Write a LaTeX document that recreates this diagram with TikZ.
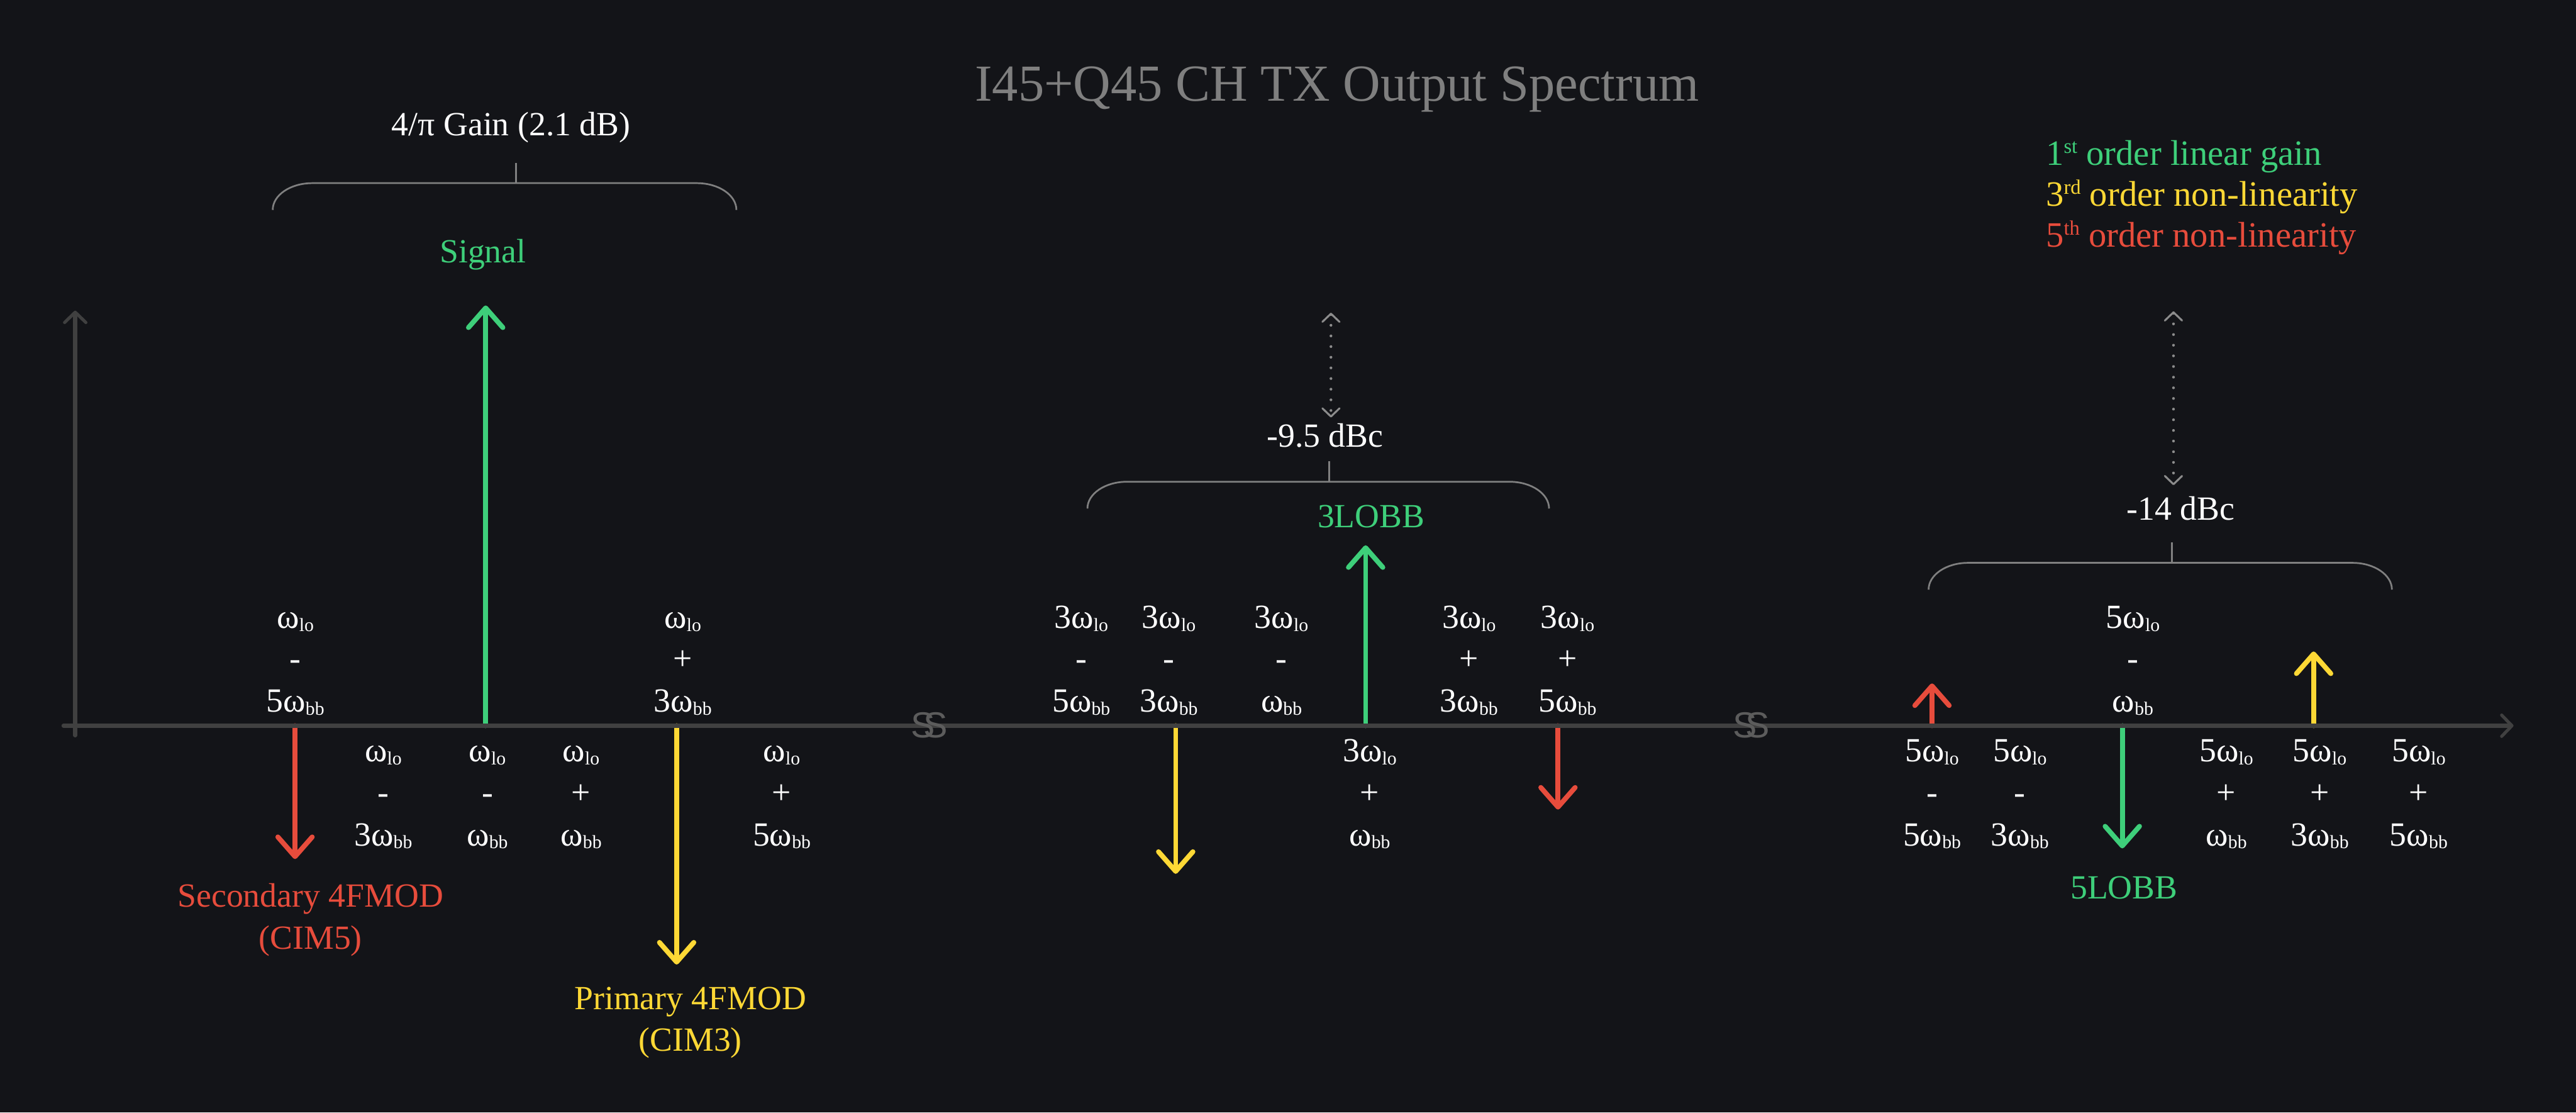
\documentclass[tikz,border=0pt]{standalone}
\usepackage{fontspec}
\setmainfont{Liberation Serif}
\newfontfamily\brkfont{Liberation Sans}
\usetikzlibrary{arrows.meta}
\definecolor{bg}{HTML}{131418}
\definecolor{gr}{HTML}{3ECF7A}
\definecolor{yl}{HTML}{FDD835}
\definecolor{rd}{HTML}{E74C3C}
\definecolor{axc}{HTML}{404040}
\definecolor{brc}{HTML}{808080}
\definecolor{dotc}{HTML}{8C8C8C}
\definecolor{ttl}{HTML}{7F7F7F}
\definecolor{brk}{HTML}{5C5C5C}
\newcommand\lblfont{\fontsize{28}{34.7}\selectfont}
\newcommand\legfont{\fontsize{29.5}{34.7}\selectfont}
\newcommand\sbs[1]{\raisebox{-0.09cm}{\fontsize{15.5}{15.5}\selectfont #1}}
\newcommand\sps[1]{\raisebox{0.35cm}{\fontsize{17}{17}\selectfont #1}}
\newcommand\wlo{ω\sbs{lo}}
\newcommand\wbb{ω\sbs{bb}}
\newcommand\stk[3]{\begin{tabular}[t]{@{}c@{}}#1\\#2\\#3\end{tabular}}
\newcommand\two[2]{\begin{tabular}[t]{@{}c@{}}#1\\#2\end{tabular}}
\tikzset{
  lbl/.style={font=\lblfont, text=white, inner sep=0pt, anchor=base},
  leg/.style={font=\legfont, inner sep=0pt, anchor=base west},
  sig/.style={line width=4.1pt, line cap=round, -{Straight Barb[length=0.57cm,width=1.0cm,round]}},
  axisln/.style={axc, line width=3.4pt, line cap=round, -{Straight Barb[length=0.3cm,width=0.62cm,round,line width=2.6pt]}},
  bracel/.style={brc, line width=1.42pt},
  dimln/.style={dotc, line width=2.3pt, dash pattern=on 0pt off 0.31cm, line cap=round,
    {Straight Barb[length=0.24cm,width=0.5cm,round,line width=1.6pt]}-{Straight Barb[length=0.24cm,width=0.5cm,round,line width=1.6pt]}},
  brkmark/.style={font=\brkfont\fontsize{30}{30}\selectfont, text=brk, inner sep=0pt}
}
\begin{document}
\begin{tikzpicture}
\fill[bg] (0,0) rectangle (75,-32.38);
\useasboundingbox (0,0) rectangle (75,-32.38);

% title
\node[lbl, text=ttl, font=\fontsize{43}{50}\selectfont] (title) at (38.93,-2.93) {I45+Q45 CH TX Output Spectrum};

% legend
\node[leg, text=gr] (leg1) at (59.56,-4.80) {1\sps{st} order linear gain};
\node[leg, text=yl] (leg2) at (59.56,-6.00) {3\sps{rd} order non-linearity};
\node[leg, text=rd] (leg3) at (59.56,-7.19) {5\sps{th} order non-linearity};

% coordinates for spectral lines
\foreach \n/\x in {a/8.59,b/14.14,c/19.70,d/34.23,e/39.76,f/45.36,g/56.25,h/61.79,i/67.36}
  \coordinate (s\n) at (\x,-21.12);
\coordinate (ta) at (8.59,-25.00);
\coordinate (tb) at (14.14,-8.89);
\coordinate (tc) at (19.70,-28.07);
\coordinate (td) at (34.23,-25.43);
\coordinate (te) at (39.76,-15.87);
\coordinate (tf) at (45.36,-23.56);
\coordinate (tg) at (56.25,-19.89);
\coordinate (th) at (61.79,-24.69);
\coordinate (ti) at (67.36,-18.96);

\draw[sig, rd] (sa) -- (ta);
\draw[sig, gr] (sb) -- (tb);
\draw[sig, yl] (sc) -- (tc);
\draw[sig, yl] (sd) -- (td);
\draw[sig, gr] (se) -- (te);
\draw[sig, rd] (sf) -- (tf);
\draw[sig, rd] (sg) -- (tg);
\draw[sig, gr] (sh) -- (th);
\draw[sig, yl] (si) -- (ti);

% axes
\coordinate (yb) at (2.19,-21.40);
\coordinate (yt) at (2.19,-9.04);
\coordinate (xl) at (1.85,-21.12);
\coordinate (xr) at (73.18,-21.12);
\draw[axisln] (yb) -- (yt);
\draw[axisln] (xl) -- (xr);

% axis breaks
\node[brkmark] (brk1) at (27.06,-21.11) {S\kern-0.33cm S};
\node[brkmark] (brk2) at (50.99,-21.11) {S\kern-0.33cm S};

% braces
\draw[bracel] (7.94,-6.11) arc[start angle=180,end angle=90,x radius=1.15,y radius=0.78]
  -- (20.29,-5.33) arc[start angle=90,end angle=0,x radius=1.15,y radius=0.78];
\draw[bracel] (15.02,-5.33) -- (15.02,-4.74);
\draw[bracel] (31.66,-14.80) arc[start angle=180,end angle=90,x radius=1.15,y radius=0.78]
  -- (43.95,-14.02) arc[start angle=90,end angle=0,x radius=1.15,y radius=0.78];
\draw[bracel] (38.70,-14.02) -- (38.70,-13.42);
\draw[bracel] (56.15,-17.16) arc[start angle=180,end angle=90,x radius=1.15,y radius=0.78]
  -- (68.49,-16.38) arc[start angle=90,end angle=0,x radius=1.15,y radius=0.78];
\draw[bracel] (63.24,-16.38) -- (63.24,-15.79);

% dimension arrows
\coordinate (d1t) at (38.75,-9.10);
\coordinate (d1b) at (38.75,-12.15);
\coordinate (d2t) at (63.28,-9.06);
\coordinate (d2b) at (63.28,-14.12);
\draw[dimln] (d1t) -- (d1b);
\draw[dimln] (d2t) -- (d2b);

% labels
\node[lbl] (gain) at (14.88,-3.95) {4/π Gain (2.1 dB)};
\node[lbl, text=gr] (signal) at (14.06,-7.64) {Signal};
\node[lbl] (db1) at (38.58,-13.01) {-9.5 dBc};
\node[lbl] (db2) at (63.49,-15.14) {-14 dBc};
\node[lbl, text=gr] (lobb3) at (39.92,-15.36) {3LOBB};
\node[lbl, text=gr] (lobb5) at (61.84,-26.16) {5LOBB};
\node[lbl, text=rd] (sec) at (9.04,-26.40) {\two{Secondary 4FMOD}{(CIM5)}};
\node[lbl, text=yl] (pri) at (20.10,-29.37) {\two{Primary 4FMOD}{(CIM3)}};

% frequency stacks above axis
\node[lbl] (u1) at (8.60,-18.28) {\stk{\wlo}{-}{5\wbb}};
\node[lbl] (u2) at (19.88,-18.28) {\stk{\wlo}{+}{3\wbb}};
\node[lbl] (u3) at (31.48,-18.28) {\stk{3\wlo}{-}{5\wbb}};
\node[lbl] (u4) at (34.03,-18.28) {\stk{3\wlo}{-}{3\wbb}};
\node[lbl] (u5) at (37.31,-18.28) {\stk{3\wlo}{-}{\wbb}};
\node[lbl] (u6) at (42.77,-18.28) {\stk{3\wlo}{+}{3\wbb}};
\node[lbl] (u7) at (45.64,-18.28) {\stk{3\wlo}{+}{5\wbb}};
\node[lbl] (u8) at (62.10,-18.28) {\stk{5\wlo}{-}{\wbb}};

% frequency stacks below axis
\node[lbl] (l1) at (11.16,-22.17) {\stk{\wlo}{-}{3\wbb}};
\node[lbl] (l2) at (14.19,-22.17) {\stk{\wlo}{-}{\wbb}};
\node[lbl] (l3) at (16.92,-22.17) {\stk{\wlo}{+}{\wbb}};
\node[lbl] (l4) at (22.76,-22.17) {\stk{\wlo}{+}{5\wbb}};
\node[lbl] (l5) at (39.88,-22.17) {\stk{3\wlo}{+}{\wbb}};
\node[lbl] (l6) at (56.25,-22.17) {\stk{5\wlo}{-}{5\wbb}};
\node[lbl] (l7) at (58.81,-22.17) {\stk{5\wlo}{-}{3\wbb}};
\node[lbl] (l8) at (64.82,-22.17) {\stk{5\wlo}{+}{\wbb}};
\node[lbl] (l9) at (67.54,-22.17) {\stk{5\wlo}{+}{3\wbb}};
\node[lbl] (l10) at (70.42,-22.17) {\stk{5\wlo}{+}{5\wbb}};
\end{tikzpicture}
\end{document}
